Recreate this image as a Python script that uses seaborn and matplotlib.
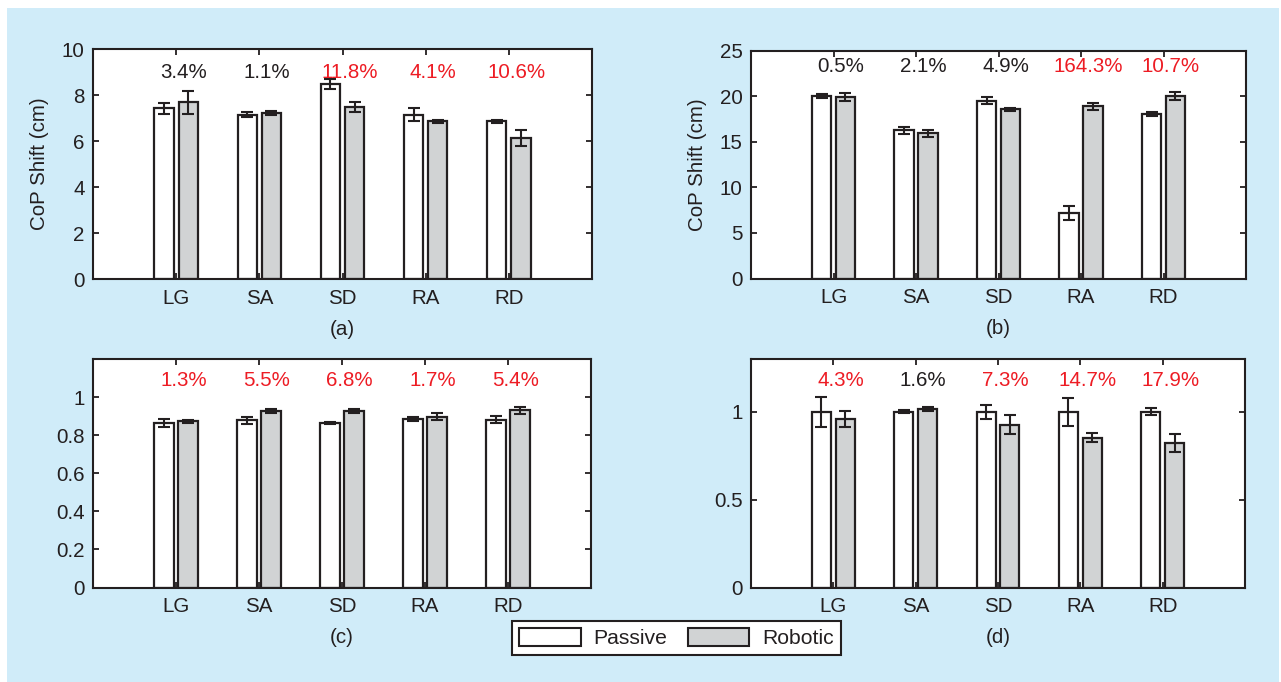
import numpy as np
import pandas as pd
import matplotlib
matplotlib.use("Agg")
import matplotlib.pyplot as plt
from matplotlib.patches import Patch, Rectangle
from matplotlib.ticker import FuncFormatter
import seaborn as sns

categories = ["LG", "SA", "SD", "RA", "RD"]
conditions = ["Passive", "Robotic"]

# (a) CoP shift (cm)
a_passive = [7.42, 7.14, 8.48, 7.15, 6.86]
a_passive_err = [0.24, 0.10, 0.22, 0.30, 0.07]
a_robotic = [7.68, 7.22, 7.48, 6.86, 6.13]
a_robotic_err = [0.50, 0.08, 0.23, 0.06, 0.36]
a_change = [3.4, 1.1, 11.8, 4.1, 10.6]
a_significant = [False, False, True, True, True]

# (b) CoP shift (cm)
b_passive = [20.0, 16.24, 19.5, 7.14, 18.07]
b_passive_err = [0.20, 0.36, 0.40, 0.78, 0.20]
b_robotic = [19.9, 15.9, 18.54, 18.87, 20.0]
b_robotic_err = [0.40, 0.42, 0.20, 0.35, 0.42]
b_change = [0.5, 2.1, 4.9, 164.3, 10.7]
b_significant = [False, False, False, True, True]

# (c) normalized measure
c_passive = [0.862, 0.878, 0.866, 0.883, 0.882]
c_passive_err = [0.021, 0.018, 0.005, 0.010, 0.017]
c_robotic = [0.873, 0.926, 0.925, 0.898, 0.930]
c_robotic_err = [0.008, 0.009, 0.010, 0.020, 0.017]
c_change = [1.3, 5.5, 6.8, 1.7, 5.4]
c_significant = [True, True, True, True, True]

# (d) normalized to passive
d_passive = [1.0, 1.0, 1.0, 1.0, 1.0]
d_passive_err = [0.085, 0.010, 0.040, 0.080, 0.019]
d_robotic = [0.957, 1.016, 0.927, 0.853, 0.821]
d_robotic_err = [0.045, 0.012, 0.055, 0.028, 0.050]
d_change = [4.3, 1.6, 7.3, 14.7, 17.9]
d_significant = [True, False, True, True, True]

INK = "#231F20"
RED = "#ED1C24"
GRAY = "#D1D3D4"
BLUE = "#D0ECF9"
FS = 14.8

sns.set_style("ticks")
plt.rcParams["font.family"] = ["Liberation Sans", "DejaVu Sans"]
plt.rcParams["text.color"] = INK
plt.rcParams["axes.labelcolor"] = INK

W, H = 1281, 682
fig = plt.figure(figsize=(W / 100, H / 100), dpi=100)
fig.patch.set_facecolor("white")
fig.add_artist(Rectangle((7 / W, 0), (1279 - 7) / W, (H - 8) / H,
                         transform=fig.transFigure, facecolor=BLUE,
                         edgecolor="none", zorder=-10))


def px_box(left, top, right, bottom):
    return [left / W, 1 - bottom / H, (right - left) / W, (bottom - top) / H]


def draw_panel(ax, passive, passive_err, robotic, robotic_err, change,
               significant, ylim, yticks, label_y, letter, ylabel=None):
    df = pd.DataFrame({
        "category": categories * 2,
        "condition": [conditions[0]] * len(categories) + [conditions[1]] * len(categories),
        "value": list(passive) + list(robotic),
    })
    errs = {conditions[0]: passive_err, conditions[1]: robotic_err}
    sns.barplot(data=df, x="category", y="value", hue="condition",
                order=categories, hue_order=conditions,
                palette={conditions[0]: "white", conditions[1]: GRAY},
                width=0.58, gap=0.2, saturation=1, edgecolor=INK,
                linewidth=1.6, errorbar=None, legend=False, ax=ax, zorder=2)

    xs, ys, es = [], [], []
    for patch in ax.patches:
        xc = patch.get_x() + patch.get_width() / 2
        idx = int(round(xc))
        cond = conditions[0] if xc < idx else conditions[1]
        xs.append(xc)
        ys.append(patch.get_height())
        es.append(errs[cond][idx])
    ax.errorbar(xs, ys, yerr=es, fmt="none", ecolor=INK, elinewidth=1.5,
                capsize=4, capthick=1.5, zorder=3)

    for i, v in enumerate(change):
        ax.text(i + 0.09, label_y, f"{v:.1f}%", ha="center", va="center",
                fontsize=FS, color=RED if significant[i] else INK)

    ax.set_xlim(-1, 5)
    ax.set_ylim(*ylim)
    ax.set_yticks(yticks)
    ax.yaxis.set_major_formatter(FuncFormatter(lambda v, p: f"{v:g}"))
    ax.set_xlabel("")
    ax.set_facecolor("white")
    for s in ax.spines.values():
        s.set_visible(True)
        s.set_linewidth(1.5)
        s.set_color(INK)
    ax.tick_params(axis="both", direction="in", length=4.5, width=1.3,
                   colors=INK, labelsize=FS, top=True, right=True,
                   labeltop=False, labelright=False)
    ax.tick_params(axis="x", pad=7)
    ax.tick_params(axis="y", pad=6)
    if ylabel:
        ax.set_ylabel(ylabel, fontsize=FS)
        ax.yaxis.set_label_coords(-0.088, 0.5)
    else:
        ax.set_ylabel("")
    ax.annotate(letter, xy=(0.5, 0), xycoords="axes fraction",
                xytext=(0, -36), textcoords="offset points",
                ha="center", va="center", fontsize=FS, color=INK)


ax_a = fig.add_axes(px_box(93, 49, 592, 279))
ax_b = fig.add_axes(px_box(751, 50.5, 1246, 278.5))
ax_c = fig.add_axes(px_box(93, 359, 591, 587.5))
ax_d = fig.add_axes(px_box(751, 359, 1245, 587.5))

draw_panel(ax_a, a_passive, a_passive_err, a_robotic, a_robotic_err,
           a_change, a_significant, (0, 10), [0, 2, 4, 6, 8, 10], 9.0,
           "(a)", "CoP Shift (cm)")
draw_panel(ax_b, b_passive, b_passive_err, b_robotic, b_robotic_err,
           b_change, b_significant, (0, 25), [0, 5, 10, 15, 20, 25], 23.2,
           "(b)", "CoP Shift (cm)")
draw_panel(ax_c, c_passive, c_passive_err, c_robotic, c_robotic_err,
           c_change, c_significant, (0, 1.2), [0, 0.2, 0.4, 0.6, 0.8, 1.0],
           1.087, "(c)")
draw_panel(ax_d, d_passive, d_passive_err, d_robotic, d_robotic_err,
           d_change, d_significant, (0, 1.3), [0, 0.5, 1.0], 1.18, "(d)")

handles = [Patch(facecolor="white", edgecolor=INK, linewidth=1.5, label=conditions[0]),
           Patch(facecolor=GRAY, edgecolor=INK, linewidth=1.5, label=conditions[1])]
leg = fig.legend(handles=handles, loc="center",
                 bbox_to_anchor=(676.5 / W, 1 - 638 / H), ncol=2,
                 frameon=True, fancybox=False, framealpha=1,
                 edgecolor=INK, facecolor="white", fontsize=FS + 0.4,
                 handlelength=2.9, handleheight=0.9, handletextpad=0.6,
                 columnspacing=1.0, borderpad=0.35)
leg.get_frame().set_linewidth(1.5)

fig.savefig("out.png", dpi=100)
